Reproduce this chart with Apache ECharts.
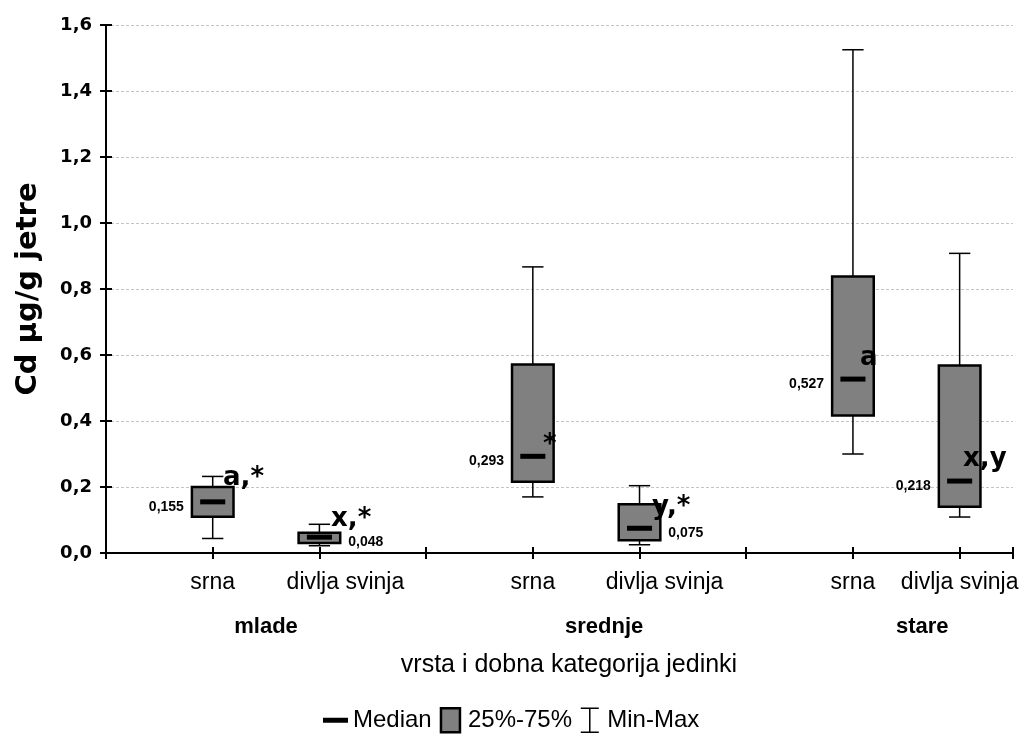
<!DOCTYPE html>
<html><head><meta charset="utf-8">
<script src="https://cdn.jsdelivr.net/npm/echarts@6/dist/echarts.min.js"></script>
<style>html,body{margin:0;padding:0;background:#fff}#c{width:1026px;height:756px}</style>
</head><body><div id="c"></div>
<script>
// ---- data ----
const positions = [1, 2, 4, 5, 7, 8];
const species = ['srna', 'divlja svinja', 'srna', 'divlja svinja', 'srna', 'divlja svinja'];
const groups = ['mlade', 'srednje', 'stare'];
const mins = [0.044, 0.022, 0.170, 0.025, 0.300, 0.109];
const q1s  = [0.110, 0.030, 0.216, 0.039, 0.417, 0.140];
const meds = [0.155, 0.048, 0.293, 0.075, 0.527, 0.218];
const q3s  = [0.200, 0.061, 0.571, 0.148, 0.838, 0.568];
const maxs = [0.232, 0.087, 0.867, 0.204, 1.525, 0.908];
const medianLabels = ['0,155', '0,048', '0,293', '0,075', '0,527', '0,218'];
const annoText = ['a,*', 'x,*', '*', 'y,*', 'a', 'x,y'];
const annoX = [1.097, 2.109, 4.096, 5.117, 7.067, 8.032];
const annoY = [0.226, 0.102, 0.326, 0.138, 0.589, 0.283];
const yTickLabels = ['0,0', '0,2', '0,4', '0,6', '0,8', '1,0', '1,2', '1,4', '1,6'];

// ---- layout/style constants ----
const BOX_W = 0.39, CAP_W = 0.2, MED_W = 0.235;
const medSide = [-1, 1, -1, 1, -1, -1];
const speciesShift = [0, 26, 0, 25, 0, 0];
const groupShift = [0, 18, 16];
const SANS = '"Liberation Sans", Arial, sans-serif';
const WIDE = '"DejaVu Sans", sans-serif';

const boxData = positions.map((p, i) => [p, mins[i], q1s[i], meds[i], q3s[i], maxs[i]]);

const chart = echarts.init(document.getElementById('c'), null, {renderer: 'canvas'});

const commonX = {type: 'value', min: 0, max: 8.5, interval: 1};
const axisLine = {show: true, lineStyle: {color: '#000', width: 2}};
const tickIn = {show: true, inside: true, length: 6, lineStyle: {color: '#000', width: 2}};

chart.setOption({
  animation: false,
  backgroundColor: '#fff',
  grid: {left: 106, right: 13, top: 25, bottom: 203},
  legend: {
    data: [
      {name: 'Median', icon: 'path://M0,0H25V5H0Z', itemStyle: {color: '#000', borderWidth: 0}},
      {name: '25%-75%', icon: 'path://M0,0H19V24H0Z', itemStyle: {color: '#808080', borderColor: '#000', borderWidth: 2.5}},
      {name: 'Min-Max', icon: 'path://M0,0H18M9,0V24M0,24H18', itemStyle: {color: 'transparent', borderColor: '#000', borderWidth: 1.5}}
    ],
    left: 318, top: 702, itemWidth: 25, itemHeight: 24, itemGap: 8,
    selectedMode: false,
    textStyle: {fontFamily: SANS, fontSize: 24, color: '#000', padding: [0, 0, 0, 0]}
  },
  xAxis: [
    Object.assign({}, commonX, {
      position: 'bottom', axisLine, axisTick: tickIn, axisLabel: {show: false}, splitLine: {show: false},
      name: 'vrsta i dobna kategorija jedinki', nameLocation: 'middle', nameGap: 100,
      nameTextStyle: {fontFamily: SANS, fontSize: 25, color: '#000', padding: [0, 0, 0, 19]}
    }),
    Object.assign({}, commonX, {
      position: 'top', axisLine, axisTick: tickIn, axisLabel: {show: false}, splitLine: {show: false}
    })
  ],
  yAxis: [
    {
      type: 'value', min: 0, max: 1.6, interval: 0.2, position: 'left',
      axisLine, axisTick: tickIn,
      axisLabel: {
        margin: 14, fontFamily: WIDE, fontWeight: 'bold', fontSize: 18, color: '#000',
        formatter: v => yTickLabels[Math.round(v / 0.2)]
      },
      splitLine: {show: true, lineStyle: {color: '#c4c4c4', width: 1, type: [3, 2]}},
      name: 'Cd µg/g jetre', nameLocation: 'middle', nameGap: 63,
      nameTextStyle: {fontFamily: WIDE, fontWeight: 'bold', fontSize: 29, color: '#000'}
    },
    {
      type: 'value', min: 0, max: 1.6, interval: 0.2, position: 'right',
      axisLine, axisTick: tickIn, axisLabel: {show: false}, splitLine: {show: false}
    }
  ],
  series: [
    {
      name: 'Min-Max', type: 'custom', xAxisIndex: 0, yAxisIndex: 0,
      data: boxData, encode: {x: 0, y: [1, 2, 3, 4, 5]},
      itemStyle: {color: '#000'},
      renderItem: (params, api) => {
        const x = api.coord([api.value(0), 0])[0];
        const y = k => api.coord([api.value(0), api.value(k)])[1];
        const hc = api.size([CAP_W, 0])[0] / 2;
        const st = {stroke: '#000', lineWidth: 1.5};
        return {type: 'group', children: [
          {type: 'line', shape: {x1: x, y1: y(5), x2: x, y2: y(4)}, style: st},
          {type: 'line', shape: {x1: x, y1: y(2), x2: x, y2: y(1)}, style: st},
          {type: 'line', shape: {x1: x - hc, y1: y(5), x2: x + hc, y2: y(5)}, style: st},
          {type: 'line', shape: {x1: x - hc, y1: y(1), x2: x + hc, y2: y(1)}, style: st}
        ]};
      }
    },
    {
      name: '25%-75%', type: 'custom', xAxisIndex: 0, yAxisIndex: 0,
      data: boxData, encode: {x: 0, y: [1, 2, 3, 4, 5]},
      itemStyle: {color: '#808080'},
      renderItem: (params, api) => {
        const x = api.coord([api.value(0), 0])[0];
        const yq3 = api.coord([api.value(0), api.value(4)])[1];
        const yq1 = api.coord([api.value(0), api.value(2)])[1];
        const hw = api.size([BOX_W, 0])[0] / 2;
        return {type: 'rect', shape: {x: x - hw, y: yq3, width: 2 * hw, height: yq1 - yq3},
          style: {fill: '#808080', stroke: '#000', lineWidth: 2.5}};
      }
    },
    {
      name: 'Median', type: 'custom', xAxisIndex: 0, yAxisIndex: 0,
      data: boxData, encode: {x: 0, y: [1, 2, 3, 4, 5]},
      itemStyle: {color: '#000'},
      renderItem: (params, api) => {
        const i = params.dataIndex;
        const x = api.coord([api.value(0), 0])[0];
        const ym = api.coord([api.value(0), api.value(3)])[1];
        const hm = api.size([MED_W, 0])[0] / 2;
        const hw = api.size([BOX_W, 0])[0] / 2;
        const left = medSide[i] < 0;
        return {type: 'group', children: [
          {type: 'rect', shape: {x: x - hm, y: ym - 2.5, width: 2 * hm, height: 5}, style: {fill: '#000'}},
          {type: 'text', x: left ? x - hw - 8 : x + hw + 8, y: ym + 5,
            style: {text: medianLabels[i], align: left ? 'right' : 'left', verticalAlign: 'middle',
              fontFamily: SANS, fontWeight: 'bold', fontSize: 14, fill: '#000'}}
        ]};
      }
    },
    {
      name: 'annotations', type: 'custom', xAxisIndex: 0, yAxisIndex: 0,
      data: annoX.map((x, i) => [x, annoY[i]]), encode: {x: 0, y: 1},
      renderItem: (params, api) => {
        const p = api.coord([api.value(0), api.value(1)]);
        return {type: 'text', x: p[0], y: p[1],
          style: {text: annoText[params.dataIndex], align: 'left', verticalAlign: 'middle',
            fontFamily: WIDE, fontWeight: 'bold', fontSize: 26, fill: '#000'}};
      }
    },
    {
      name: 'speciesLabels', type: 'custom', xAxisIndex: 0, yAxisIndex: 0, clip: false,
      data: positions.map(p => [p, 0]), encode: {x: 0, y: 1},
      renderItem: (params, api) => {
        const i = params.dataIndex;
        const p = api.coord([api.value(0), 0]);
        return {type: 'text', x: p[0] + speciesShift[i], y: p[1] + 30,
          style: {text: species[i], align: 'center', verticalAlign: 'middle',
            fontFamily: SANS, fontSize: 23, fill: '#000'}};
      }
    },
    {
      name: 'groupLabels', type: 'custom', xAxisIndex: 0, yAxisIndex: 0, clip: false,
      data: groups.map((g, k) => [(positions[2 * k] + positions[2 * k + 1]) / 2, 0]), encode: {x: 0, y: 1},
      renderItem: (params, api) => {
        const k = params.dataIndex;
        const p = api.coord([api.value(0), 0]);
        return {type: 'text', x: p[0] + groupShift[k], y: p[1] + 74,
          style: {text: groups[k], align: 'center', verticalAlign: 'middle',
            fontFamily: SANS, fontWeight: 'bold', fontSize: 22, fill: '#000'}};
      }
    }
  ]
});
</script></body></html>
